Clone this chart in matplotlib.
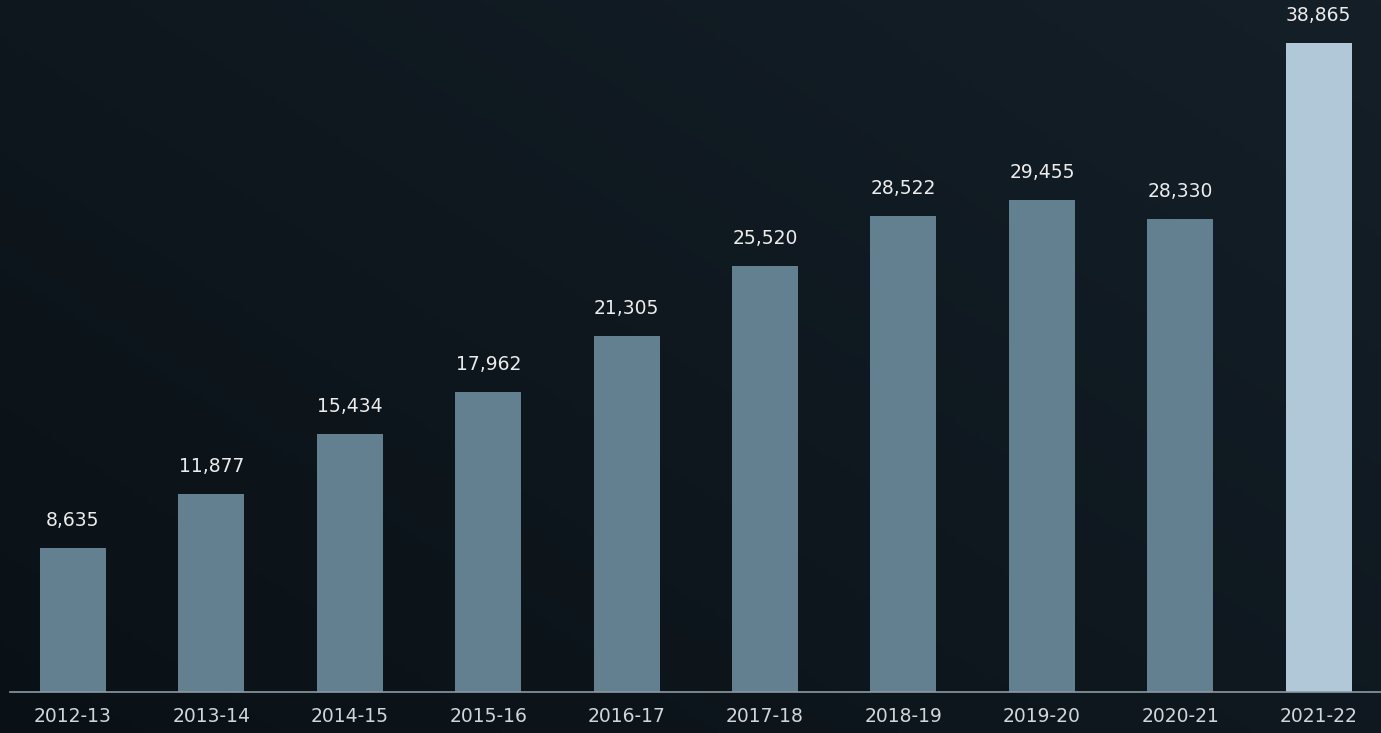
import numpy as np
import matplotlib.pyplot as plt

years = ['2012-13', '2013-14', '2014-15', '2015-16', '2016-17',
         '2017-18', '2018-19', '2019-20', '2020-21', '2021-22']
values = [8635, 11877, 15434, 17962, 21305, 25520, 28522, 29455, 28330, 38865]

bar_color = '#62808f'
last_color = '#b0c8d8'
colors = [bar_color] * (len(values) - 1) + [last_color]

fig = plt.figure(figsize=(13.81, 7.33), dpi=100)

# fondo con degradado suave
bg = fig.add_axes([0, 0, 1, 1])
gx = np.linspace(0, 1, 300)
gy = np.linspace(0, 1, 160)
X, Y = np.meshgrid(gx, gy)
grad = 0.55 * X + 0.45 * Y
c0 = np.array([0x0a, 0x11, 0x16]) / 255
c1 = np.array([0x14, 0x1f, 0x28]) / 255
img = c0 + (c1 - c0) * grad[..., None]
bg.imshow(img, aspect='auto', origin='lower', extent=[0, 1, 0, 1])
bg.axis('off')

ax = fig.add_axes([10 / 1381, 41 / 733, 1 - 10 / 1381, 692 / 733])
ax.patch.set_alpha(0)
x = np.arange(len(values))
bars = ax.bar(x, values, width=0.477, color=colors, zorder=2)

for xi, v in zip(x, values):
    ax.annotate(f'{v:,}', (xi, v), xytext=(0, 13), textcoords='offset points',
                ha='center', va='bottom', color='#ececec', fontsize=13.5,
                fontfamily='DejaVu Sans', fontweight='medium')

ax.set_xlim(-0.455, 9.45)
ax.set_ylim(0, 41440)
ax.set_xticks(x)
ax.set_xticklabels(years, color='#d2d6da', fontsize=13.5, fontfamily='DejaVu Sans')
ax.tick_params(axis='x', length=0, pad=11)
ax.set_yticks([])
for s in ['top', 'right', 'left']:
    ax.spines[s].set_visible(False)
ax.spines['bottom'].set_color('#8c9aa4')
ax.spines['bottom'].set_linewidth(1.2)

fig.savefig('out.png', dpi=100)
